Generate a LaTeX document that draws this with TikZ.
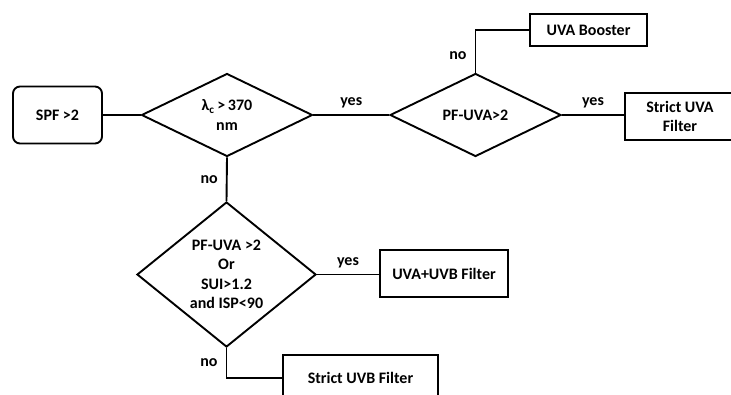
\documentclass[tikz,border=0pt]{standalone}
\usepackage{fontspec}
\setmainfont{Carlito}
\usetikzlibrary{shapes.geometric}
\begin{document}
\begin{tikzpicture}[x=1pt,y=-1pt, line width=1.9pt,
  font=\bfseries\fontsize{16}{19.5}\selectfont,
  box/.style={draw, rectangle, inner sep=0pt, align=center},
  rbox/.style={box, rounded corners=7pt},
  dia/.style={draw, diamond, inner sep=0pt, align=center},
  lbl/.style={draw=none, inner sep=2pt}]
\useasboundingbox (0,0) rectangle (731,394);
\node[rbox, minimum width=89pt, minimum height=57pt] (spf) at (57.5,115) {SPF >2};
\node[dia, minimum width=171pt, minimum height=83pt] (d1) at (227,115) {λ\textsubscript{c}\,>\,370\\nm};
\node[dia, minimum width=171pt, minimum height=83pt] (d2) at (475.5,115) {PF-UVA>2};
\node[box, minimum width=117pt, minimum height=32pt] (boost) at (588.5,30) {UVA Booster};
\node[box, minimum width=110pt, minimum height=47pt] (suva) at (680,116.5) {Strict UVA\\Filter};
\node[dia, minimum width=179pt, minimum height=145pt] (d3) at (226.5,274.5) {PF-UVA >2\\Or\\SUI>1.2\\and ISP<90};
\node[box, minimum width=128pt, minimum height=47pt] (uvab) at (444,273.5) {UVA+UVB Filter};
\node[box, minimum width=155pt, minimum height=46pt] (suvb) at (360.5,378) {Strict UVB Filter};
\draw (spf) -- (d1);
\draw (d1.east) -- node[lbl, above=4pt] {yes} (d2.west);
\draw (d2.east) -- node[lbl, above=4pt] {yes} (suva.west |- d2.east);
\draw (d2.north) |- node[lbl, pos=.2, left=6pt] {no} (boost.west);
\draw (d1.south) -- node[lbl, left=6pt] {no} (d3.north);
\draw (d3.east) -- node[lbl, above=4pt] {yes} (uvab.west |- d3.east);
\draw (d3.south) |- node[lbl, pos=.25, left=6pt] {no} (suvb.west);
\end{tikzpicture}
\end{document}
